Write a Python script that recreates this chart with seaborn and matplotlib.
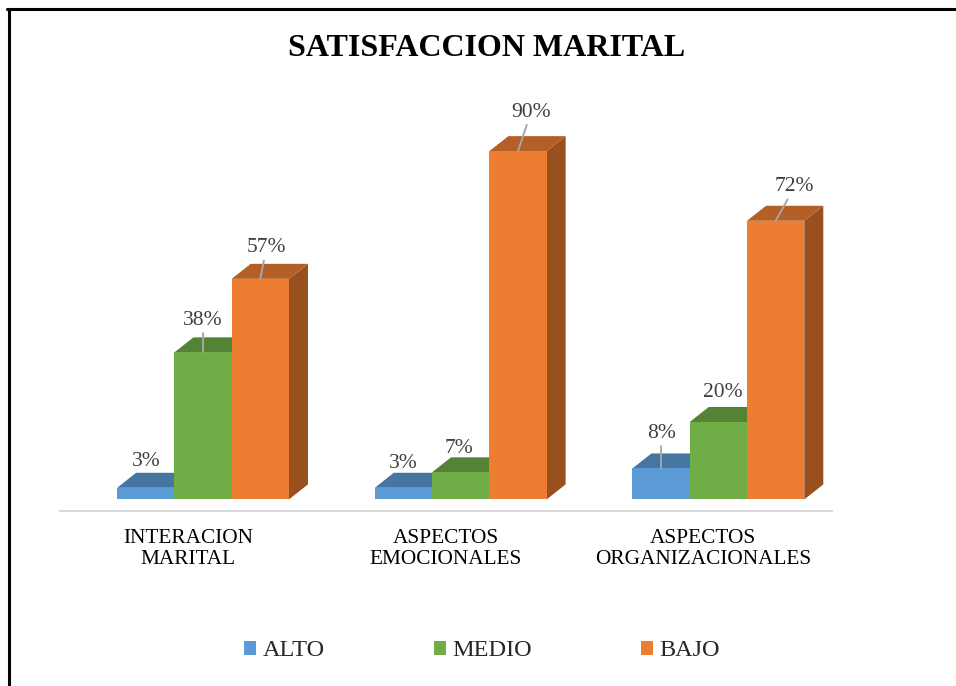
import pandas as pd
import seaborn as sns
import matplotlib.pyplot as plt
import matplotlib.colors as mcolors
from matplotlib.patches import Polygon
from matplotlib.lines import Line2D
from matplotlib.transforms import ScaledTranslation

## datos del grafico
aspectos = ['INTERACION\nMARITAL', 'ASPECTOS\nEMOCIONALES', 'ASPECTOS\nORGANIZACIONALES']
niveles = ['ALTO', 'MEDIO', 'BAJO']
alto = [3, 3, 8]
medio = [38, 7, 20]
bajo = [57, 90, 72]
colores = ['#5B9BD5', '#70AD47', '#ED7D31']

## posicion de las etiquetas (px respecto al centro del techo frontal) y si llevan linea guia
offs = {
    'ALTO': [(0, 26, False), (0, 24, False), (0, 35, True)],
    'MEDIO': [(0, 32, True), (-2, 24, False), (4, 30, False)],
    'BAJO': [(6, 31, True), (13, 39, True), (19, 34, True)],
}

filas = []
for i, a in enumerate(aspectos):
    filas.append([a, 'ALTO', alto[i]])
    filas.append([a, 'MEDIO', medio[i]])
    filas.append([a, 'BAJO', bajo[i]])
df = pd.DataFrame(filas, columns=['aspecto', 'nivel', 'pct'])

sns.set_theme(style='white')
plt.rcParams['font.family'] = ['Liberation Serif', 'DejaVu Serif']

fig = plt.figure(figsize=(9.56, 6.86), dpi=100)
ax = fig.add_axes([0.0628, 0.2551, 0.8075, 0.581])

sns.barplot(ax=ax, data=df, x='aspecto', y='pct', hue='nivel', hue_order=niveles,
            palette=colores, width=0.667, saturation=1, errorbar=None, linewidth=0)
ax.set_xlim(-0.555, 2.441)
ax.set_ylim(-3, 100)

## efecto 3d: techo y lateral de cada barra
dx, dy = 19 / 257.7, 15 / 3.87
for j, cont in enumerate(ax.containers):
    base = mcolors.to_rgb(colores[j])
    techo = tuple(c * 0.76 for c in base)
    lado = tuple(c * 0.64 for c in base)
    for k, p in enumerate(cont.patches):
        p.set_zorder(3 + j)
        x0 = p.get_x()
        x1 = x0 + p.get_width()
        h = p.get_height()
        ax.add_patch(Polygon([(x1, 0), (x1, h), (x1 + dx, h + dy), (x1 + dx, dy)],
                             closed=True, facecolor=lado, edgecolor='none', zorder=2.5 + j))
        ax.add_patch(Polygon([(x0, h), (x1, h), (x1 + dx, h + dy), (x0 + dx, h + dy)],
                             closed=True, facecolor=techo, edgecolor='none', zorder=2.5 + j))
        ox, oy, guia = offs[niveles[j]][k]
        cx = x0 + p.get_width() / 2
        if guia:
            ax.annotate(f'{int(h)}%', xy=(cx, h), xytext=(ox * 0.72, oy * 0.72),
                        textcoords='offset points', ha='center', va='center',
                        fontsize=15.5, color='#404040', zorder=10,
                        arrowprops=dict(arrowstyle='-', color='#A6A6A6', lw=1.4,
                                        shrinkA=0, shrinkB=0))
        else:
            ax.annotate(f'{int(h)}%', xy=(cx, h), xytext=(ox * 0.72, oy * 0.72),
                        textcoords='offset points', ha='center', va='center',
                        fontsize=15.5, color='#404040', zorder=10)

## ejes
for s in ['top', 'right', 'left']:
    ax.spines[s].set_visible(False)
ax.spines['bottom'].set_color('#D9D9D9')
ax.spines['bottom'].set_linewidth(1.4)
ax.set_yticks([])
ax.set_xlabel('')
ax.set_ylabel('')
ax.tick_params(axis='x', length=0, pad=12.6, labelsize=15.3, labelcolor='#000000')
for lab in ax.get_xticklabels():
    lab.set_linespacing(1.2)
    lab.set_transform(lab.get_transform() + ScaledTranslation(-0.15, 0, fig.dpi_scale_trans))

## leyenda
handles, labels = ax.get_legend_handles_labels()
ax.get_legend().remove()
fig.legend(handles, labels, loc='center', bbox_to_anchor=(482 / 956, 1 - 651 / 686),
           ncol=3, frameon=False, fontsize=17.5, handlelength=0.5, handleheight=0.5,
           handletextpad=0.25, columnspacing=4.5)

fig.text(487 / 956, 1 - 49 / 686, 'SATISFACCION MARITAL', ha='center', va='center',
         fontsize=23, fontweight='bold', color='#000000')

## marco
fig.add_artist(Line2D([8.5 / 956, 8.5 / 956], [0, 1 - 9.3 / 686], color='black', lw=2.2,
                      transform=fig.transFigure))
fig.add_artist(Line2D([7.4 / 956, 1], [1 - 9.3 / 686, 1 - 9.3 / 686], color='black', lw=2.2,
                      transform=fig.transFigure))

fig.savefig('out.png', dpi=100)
